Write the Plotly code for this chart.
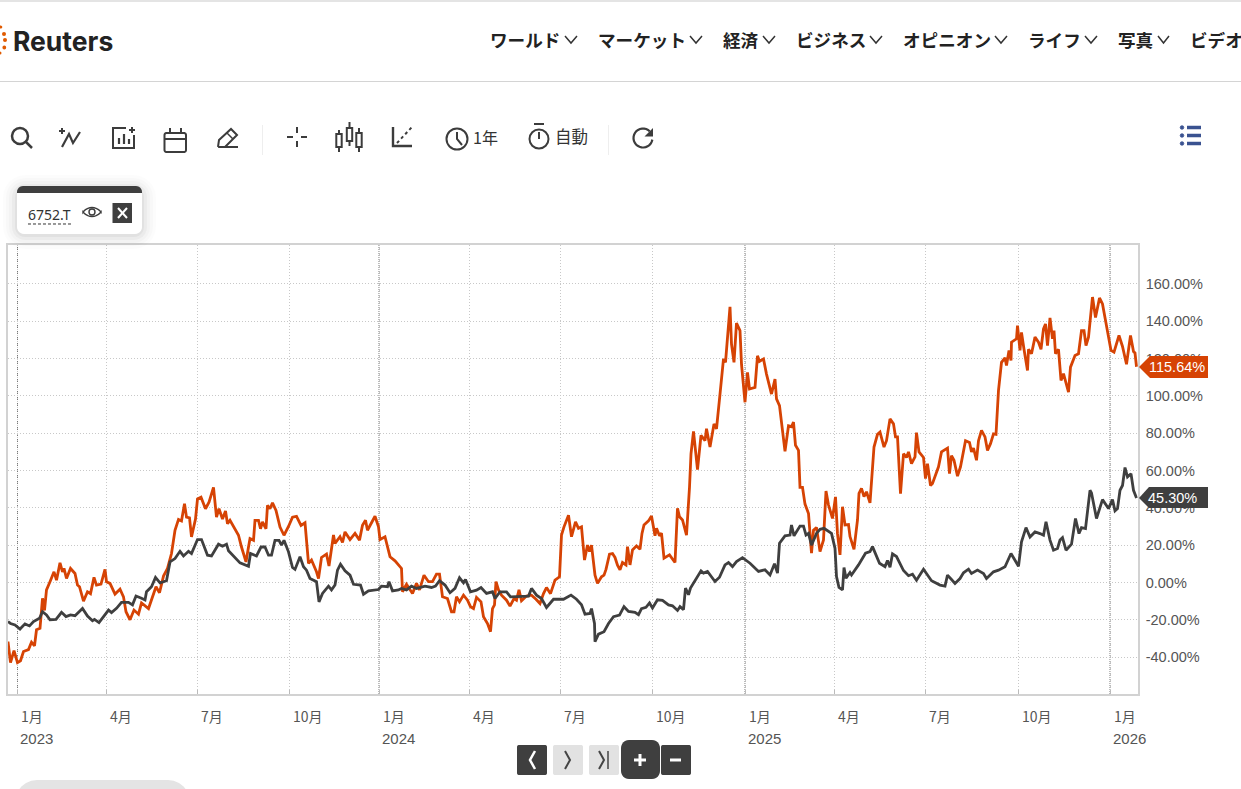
import math
import plotly.graph_objects as go

W = 1241
H = 789

# (chart day, percent change)
orange_points = [
    (-9.5,-31.7),(-7,-43),(-3.5,-36.5),(0,-43),(3,-42),(6,-37),(11,-36),(14,-32),(17,-34),(19,-25.4),
    (22.5,-24.6),(25,-8.5),(27,-15),(29,-4),(32.5,0.4),(36.5,5.7),(39,1.2),(42.5,10.5),(45,5.7),(46.5,7.5),
    (49,2.1),(53,7.5),(57.5,4.8),(60,-1.4),(62,-2.3),(66,-10),(70,-5),(73,-6),(76.5,2.7),(79,-1.4),
    (83.5,-0.9),(87.5,7),(89,0.4),(92.5,-0.5),(97.5,-6.2),(102.5,-3.6),(106,-7.7),(108.5,-15.7),(112.5,-20),(116.5,-14.8),
    (121,-17),(124,-11),(131,-14),(135,-7.7),(138.5,-2.3),(142,-5.5),(146,3.4),(150,7.5),(154,15.5),(157.5,28),
    (161,33.8),(164,33),(167,42.2),(169,35),(172,34.6),(174,24.4),(178,34),(180,44.8),(183.5,45.7),(188,39.5),
    (191.5,43),(196,51),(199,35),(201.5,39.5),(205,34),(208,38.3),(210,31.5),(212.5,33.3),(216,29.7),(221,25.3),
    (224,19),(228.5,11),(231,19),(232.5,23.5),(236,22.6),(237.5,33.3),(241,33.3),(243,28.8),(245,32.4),(248.5,28.8),
    (250,41.3),(252.5,39.5),(255,42.7),(258.5,38.6),(262.5,29.7),(266.5,25.3),(271,30),(275,35),(279,35.4),(283.5,30.6),
    (287.5,32),(291,10.2),(294,12),(299,5.7),(301,2.1),(304,13.4),(309,15.2),(311.5,8.8),(316,25.4),(317.5,20.9),
    (322.5,24.5),(325,21.4),(327.5,27.1),(332.5,23),(337.5,26.3),(342,22.7),(345,30.7),(348,33.4),(350,28),(354,32),
    (357.5,35.5),(361,29.8),(362.5,23),(367.5,24.5),(372.5,13.8),(377.5,11.6),(384,7.5),(385,-5),(389,-1),(395,-5.9),
    (399,-0.5),(402,-4),(406.5,3.9),(411,0.4),(415,0.4),(419,4.5),(422,4.5),(425,-7.7),(430,-8.6),(434,-15.7),
    (436.5,-15.7),(439,-7.7),(442,-10.4),(446,-6.8),(450,-9.5),(453,-13),(456,-14),(459,-8),(463.5,-10.4),(466,-18.4),
    (470,-22),(473,-26.4),(475,-14),(477,-12),(478.5,0.4),(481,-4),(484,-6.8),(489,-9.5),(492.5,-12.7),(496.5,-8.6),
    (499,-9.5),(501.5,-4),(504,-9.8),(509,-7.3),(514,-6.8),(518.5,-9),(522.5,-11.3),(526,-6),(529,-2.7),(533,-6),
    (537.5,1.3),(542,3),(544,25.4),(546.5,29.8),(551,36),(554,24.5),(558,32.5),(561,29),(564,29.8),(567,12),
    (570,20),(572,16.5),(574,20),(577.5,3.9),(580,-0.5),(584,3),(586.5,3.9),(588.5,7),(592,15.2),(595,15.5),
    (597.5,13.4),(600,9.3),(602.5,6.8),(605,10.7),(608.5,9.4),(610,19.2),(612.5,9.4),(615,17.4),(619,19.6),(622.5,17.8),
    (624.5,26.3),(626.5,30.8),(631,33),(634,35.6),(637.5,25),(639,29),(642,25),(644,26.5),(646.5,13),(652,14.8),
    (657.5,10.7),(660,39.7),(662,35.2),(665,33.5),(669,25.4),(672,51),(673.5,69),(676,81),(677.5,71.7),(680,60.5),
    (683.5,78.8),(687.5,76),(689,82.4),(692.5,72.6),(696.5,85),(699,82.4),(702.5,101),(706,119.8),(708,118),(712.5,147.7),
    (714,127.8),(716.5,118),(719,139),(722.5,135),(724,117),(727.5,96.6),(730,112.6),(732,103.7),(737.5,104.6),(740,121.5),
    (742,118.5),(746,119.8),(749,111.7),(752,105.5),(754,101),(757.5,109),(759,98.4),(762,94.8),(767.5,70.3),(771,84),
    (774,83.5),(776,86),(778,73.5),(781,70.8),(782.5,51),(785,51),(787.5,42),(791,37),(794,15.7),(796,28),
    (799,29.5),(802.5,16.5),(806,22.8),(808.5,49),(811,41.5),(815,34.3),(818,45.9),(820,26),(822.5,14.8),(825,40.6),
    (827.5,30.8),(831,31),(832.5,24.6),(836.5,17.8),(840,33.5),(841.5,47.7),(844,50.4),(846.5,46),(849,48.6),(852.5,42.7),
    (856.5,72.6),(860,79.4),(862.5,80.6),(866.5,72.6),(869,76),(872.5,87.7),(876,85),(878,78),(880,78),(883,47.6),
    (886,69),(889,67),(891,70),(894,63.7),(897.5,67.3),(899,80.3),(901.5,70),(906,67),(908,55.7),(910,63.7),
    (913,52),(915,53),(918.5,59),(921,62),(924,70),(930,72),(932,58.3),(934,68),(936.5,65.5),(940,57),
    (943,62),(946,70),(948,76),(952,75),(954,70),(956,72),(959,65.5),(961,76),(964,81.5),(967.5,78),
    (970,70.8),(973,74.4),(976,79.7),(978.5,79.4),(981,103),(984,118),(987.5,120.4),(989,116.3),(991.5,124.4),(993.5,119),
    (994,128.8),(999,130.6),(1000,137.7),(1002.5,124.4),(1004,134),(1006.5,125),(1010,113.6),(1011,125),(1014,122.6),(1017.5,131.5),
    (1021,128.8),(1023.5,125),(1026,136),(1028,138.6),(1030,127),(1032.5,141.8),(1035,130.6),(1036.5,135),(1038,122.6),(1041,125),
    (1043.5,108.3),(1046,111.9),(1051,102),(1053,115.4),(1057.5,121.7),(1061,122.6),(1064,135),(1066.5,135),(1068.5,127),(1071,131.5),
    (1075,153),(1078,142),(1082,152.5),(1085,149.3),(1089,136.8),(1093.5,124.4),(1096.5,123.5),(1101.5,132.4),(1105,126.5),(1109,117),
    (1113,132.4),(1116,123.8),(1117.5,123),(1119,115.64),
]

dark_points = [
    (-9.5,-21),(-7,-22),(-2.5,-22.8),(2.5,-25),(7.5,-22.2),(12,-23.3),(16,-21),(22,-19.2),(25,-15.7),(29,-17.4),
    (32.5,-20),(38.5,-19.8),(44,-16),(48.5,-18.3),(53,-17.4),(57.5,-17.8),(65,-13.9),(70,-18),(75,-20.5),(77,-19.8),
    (81.5,-21.5),(87.5,-17.4),(91,-14.8),(94,-16.2),(99,-13.9),(104,-10.7),(111,-10.7),(115,-12),(118.5,-7.3),(124,-8.5),
    (127.5,-9.4),(129,-5),(134,-2.3),(138,2.7),(142.5,-0.2),(149,0.9),(152.5,11),(157.5,12.8),(162.5,16.7),(166,14.2),
    (171,16.7),(174,15.5),(180,23),(184,23),(190,14.6),(194,14.2),(201,20.5),(205,19.4),(209,20.5),(211,17),
    (217.5,13.3),(222.5,10.5),(231,8.7),(233,15.5),(239,14.2),(243.5,19),(247.5,19),(251,14.6),(254,14.6),(257.5,22.6),
    (261.5,22.6),(264,20),(266.5,22.6),(271,16.4),(275,8),(277.5,7),(282.5,13.8),(286,8.4),(289,6.6),(292.5,2.1),
    (299,0.4),(301.5,-10.4),(305,-5.9),(311,-2),(314,-4),(317.5,-1.4),(320,6.6),(323,9.8),(327.5,6.3),(332.5,3.9),
    (336,-1),(343,-1.4),(346,-6.3),(351,-4.5),(361,-3.8),(364,-2),(370,-2.3),(371.5,0.4),(375,-4.5),(381,-4),
    (384,-3.2),(389,-4),(394,-2),(399,-3.2),(407.5,-2),(414,-2.7),(418,-2),(422,0.9),(427.5,-1.4),(432.5,-5.5),
    (437.5,-3.2),(442,2.5),(446,-0.2),(448,1.6),(453,-5),(459,-4.1),(463.5,-2.7),(469,-5.9),(475,-5),(477.5,-8.6),
    (482.5,-5),(489,-5),(493,-7.7),(498,-7.7),(504,-7.7),(511,-7.3),(514,-3.2),(519,-6.8),(524,-8.6),(529,-13.4),
    (536,-9),(546,-9),(553.5,-6.8),(559,-9),(564,-12),(567.5,-17),(572.5,-16.6),(574,-14),(577,-22),(577.5,-31.8),
    (581,-27.7),(586.5,-26.4),(591,-22),(596,-18.4),(602,-17.5),(606.5,-13),(611,-15.5),(617.5,-16),(621,-17.3),(624,-14),
    (628.5,-13.3),(632,-11),(635,-13.7),(640,-9.3),(645,-9.6),(651,-12),(655,-12.5),(660,-15),(662.5,-13),(666,-14.6),
    (668,-3),(671,-6.6),(673,-3),(679,2.3),(683.5,6.2),(686,5),(690,5.9),(697.5,0.5),(702,2.8),(707.5,9.4),
    (711,10.7),(715,8.5),(719,11.2),(725,13.3),(732.5,10.3),(741,5.9),(747.5,6.8),(752.5,4),(757,10),(760,5),
    (762,21),(767.5,25),(772.5,25.4),(774,30.8),(776.5,25),(782.5,30.2),(786,30.2),(788.5,25.4),(791,26.3),(794,20),
    (799,26.3),(802.5,28.5),(806.5,29),(814,26.3),(817.5,18.3),(819,3.2),(821.5,-2.7),(825,-4),(826.5,8),(828.5,2.3),
    (832.5,5.3),(834,4),(841,9.4),(848,15.7),(852.5,16.5),(855,19.2),(862,10.3),(867.5,8.5),(870,11.7),(872.5,8.2),
    (875,15.3),(879,13.9),(886,6.4),(891,3.6),(895,4.4),(899,1.2),(906,7.1),(914,0.9),(922.5,-1.4),(927.5,-2),
    (930,3.9),(934,1.6),(937.5,-0.5),(942.5,2.1),(946,5.2),(951,7.1),(954,4.8),(960,6.6),(966,4.8),(969,2.1),
    (976,5.7),(981,6.6),(987.5,8.4),(993.5,15.5),(1001,8.7),(1004,21.8),(1008.5,29.4),(1012.5,24.4),(1017.5,27.1),(1022.5,26.2),
    (1026,25.3),(1028.5,32.5),(1032.5,22.7),(1036,17.3),(1040,18.2),(1042.5,22.7),(1045,24),(1048.5,17.3),(1054,20.5),(1058,34.3),
    (1061.5,26.2),(1064,29.4),(1068,28.9),(1072.5,49.4),(1074,48),(1079,34.3),(1085,44.4),(1091,39.6),(1095,44.4),(1097.5,38.4),
    (1100,39.6),(1102.5,49.4),(1105,52),(1107.5,61.6),(1110,56.6),(1113.5,58.3),(1116,49.4),(1118.5,45.9),(1119,45.3),
]

y_ticks = [-40, -20, 0, 20, 40, 60, 80, 100, 120, 140, 160]
y_labels = ["-40.00%", "-20.00%", "0.00%", "20.00%", "40.00%", "60.00%", "80.00%",
            "100.00%", "120.00%", "140.00%", "160.00%"]
month_days = [0, 89, 180, 271.5, 361.5, 452, 542.5, 635, 727.5, 816.5, 907.5, 1000.5, 1092.5]
month_labels = ["1月", "4月", "7月", "10月"] * 3 + ["1月"]
year_days = [0, 361.5, 727.5, 1092.5]
year_labels = ["2023", "2024", "2025", "2026"]
nav_labels = ["ワールド", "マーケット", "経済", "ビジネス", "オピニオン", "ライフ", "写真", "ビデオ"]

ORANGE = "#d64304"
DARK = "#3f3f3f"
ICON = "#3c3c3c"
LATIN = "Liberation Sans, Arial, sans-serif"
CJK = "Noto Sans CJK JP, sans-serif"

shapes = []
notes = []


def X(x):
    return x / W


def Y(y):
    return 1 - y / H


def make_path(points, closed=False):
    d = "M " + " L ".join(f"{X(a):.5f},{Y(b):.5f}" for a, b in points)
    return d + (" Z" if closed else "")


def stroke(points, color=ICON, width=2, dash="solid"):
    shapes.append(dict(type="path", xref="paper", yref="paper", path=make_path(points),
                       line=dict(color=color, width=width, dash=dash)))


def poly(points, fill, line_color=None, opacity=1):
    shapes.append(dict(type="path", xref="paper", yref="paper", path=make_path(points, True),
                       fillcolor=fill, opacity=opacity, line=dict(width=1 if line_color else 0, color=line_color or fill)))


def box(x0, y0, x1, y1, fill="rgba(0,0,0,0)", color=None, width=0):
    shapes.append(dict(type="rect", xref="paper", yref="paper", x0=X(x0), x1=X(x1), y0=Y(y0), y1=Y(y1),
                       fillcolor=fill, line=dict(color=color or fill, width=width)))


def ring(cx, cy, r, color=ICON, width=2, fill="rgba(0,0,0,0)"):
    shapes.append(dict(type="circle", xref="paper", yref="paper", x0=X(cx - r), x1=X(cx + r),
                       y0=Y(cy - r), y1=Y(cy + r), fillcolor=fill, line=dict(color=color, width=width)))


def rounded(x0, y0, x1, y1, r, top_only=False):
    pts = []
    corners = [(x1 - r, y0 + r, -90), (x1 - r, y1 - r, 0), (x0 + r, y1 - r, 90), (x0 + r, y0 + r, 180)]
    for i, (cx, cy, start) in enumerate(corners):
        if top_only and i in (1, 2):
            pts.append((x1, y1) if i == 1 else (x0, y1))
            continue
        for k in range(7):
            a = math.radians(start + 15 * k)
            pts.append((cx + r * math.cos(a), cy + r * math.sin(a)))
    return pts


def label(x, y, text, size=14, color="#555555", font=LATIN, anchor="left", bold=False):
    if bold:
        text = f"<b>{text}</b>"
    notes.append(dict(xref="paper", yref="paper", x=X(x), y=Y(y), text=text, showarrow=False,
                      xanchor=anchor, yanchor="middle", borderpad=0, borderwidth=0,
                      font=dict(size=size, color=color, family=font)))


def chevron(x0, x1, y0, y1):
    stroke([(x0, y0), ((x0 + x1) / 2, y1), (x1, y0)], color="#333333", width=1.5)


def arc(cx, cy, r, a0, a1, n=24):
    return [(cx + r * math.cos(math.radians(a0 + (a1 - a0) * i / n)),
             cy + r * math.sin(math.radians(a0 + (a1 - a0) * i / n))) for i in range(n + 1)]


# page header
box(0, 0, W, 2, fill="#e4e4e4")
box(0, 81, W, 82, fill="#d4d4d4")
logo_dots = [(4, 34, 2), (5, 40, 2), (4.3, 47.5, 1.9), (0.7, 27, 1.6), (0, 53, 1.5)]
for cx, cy, r in logo_dots:
    ring(cx, cy, r, color="#e05a00", width=0, fill="#e05a00")
label(13, 41, "Reuters", size=26.5, color="#222222", font="Inter, sans-serif", bold=True)

nav_left = [490, 598, 723, 796, 903, 1028, 1118, 1190]
nav_chevrons = [(565, 577), (690, 702), (763, 775), (870, 882), (995, 1007), (1085, 1097), (1158, 1169)]
for left, text in zip(nav_left, nav_labels):
    label(left, 39.5, text, size=17.6, color="#222222", font=CJK, bold=True)
for a, b in nav_chevrons:
    chevron(a, b, 36, 43)

# toolbar icons
ring(20, 136, 8, width=2.5)
stroke([(26, 142), (32, 148)], width=2.5)
stroke([(62, 147), (69, 134), (73, 143), (80, 132)], width=2.2)
stroke([(59, 131), (65, 131)])
stroke([(62, 128), (62, 134)])
stroke([(126, 128), (113, 128), (113, 148), (134, 148), (134, 135)])
stroke([(119, 144), (119, 138)], width=2.2)
stroke([(124, 144), (124, 134)], width=2.2)
stroke([(129, 144), (129, 139)], width=2.2)
stroke([(129, 130), (135, 130)])
stroke([(132, 127), (132, 133)])
poly(rounded(164.5, 133, 186, 152, 2), "rgba(0,0,0,0)", ICON)
shapes[-1]["line"]["width"] = 2
stroke([(164.5, 139), (186, 139)])
stroke([(170, 128), (170, 133)])
stroke([(181, 128), (181, 133)])
stroke([(218, 147), (219, 140), (231, 129), (237, 135), (225, 147), (218, 147)])
stroke([(227, 133), (233, 139)], width=1.5)
stroke([(225, 147), (238, 147)])
box(262, 125, 263, 155, fill="#eeeeee")
stroke([(287, 137), (293, 137)])
stroke([(301, 137), (307, 137)])
stroke([(297, 127), (297, 133)])
stroke([(297, 141), (297, 147)])
for cx, top, bottom, wick_top, wick_bottom in [(339, 134, 147, 130, 152), (349.5, 128, 141, 122, 146), (359, 133, 147, 128, 152)]:
    box(cx - 2.7, top, cx + 2.7, bottom, color=ICON, width=2)
    stroke([(cx, wick_top), (cx, top)])
    stroke([(cx, bottom), (cx, wick_bottom)])
stroke([(393, 127), (393, 146), (412, 146)], width=2.4)
stroke([(397, 143), (412, 127)], dash="3px,3px")
ring(457, 139, 10.5)
stroke([(457, 132), (457, 139), (462, 145)])
label(473, 137, "1年", size=16, color="#333333", font=CJK)
ring(539, 139, 9.5)
stroke([(534, 124), (544, 124)])
stroke([(539, 132), (539, 139)])
label(555, 136, "自動", size=16.5, color="#333333", font=CJK)
box(608, 125, 609, 155, fill="#eeeeee")
stroke(arc(643, 138, 9.5, 10, 315), width=2.2)
poly([(653, 128), (653, 136.5), (644.5, 136.5)], ICON)
for row in (127.5, 135.5, 143.5):
    ring(1182, row, 1.8, color="#3a5290", width=0.8, fill="#3a5290")
    stroke([(1187, row), (1201, row)], color="#3a5290", width=3.5)

# series card
for grow, alpha in [(14, 0.012), (11, 0.015), (8, 0.02), (5, 0.03), (2, 0.04)]:
    poly(rounded(17 - grow, 186 - grow + 3, 142 + grow, 234 + grow + 1, 8 + grow), "#000000", opacity=alpha)
poly(rounded(17, 186, 142, 234, 7), "#ffffff")
poly(rounded(17, 186, 142, 193, 6, top_only=True), DARK)
label(28, 214, "6752.T", size=14, color="#333333", font="Noto Sans, sans-serif")
stroke([(28, 224), (71, 224)], color="#333333", width=1, dash="3px,2px")
stroke(arc(92, 218.5, 11, 215, 325, 10) + arc(92, 205.5, 11, 35, 145, 10) + arc(92, 218.5, 11, 215, 216, 1), width=1.4)
ring(92, 212, 3, width=1.4)
poly([(112.5, 203), (132, 203), (132, 223), (112.5, 223)], DARK)
stroke([(118, 208), (127, 218)], color="#ffffff", width=2)
stroke([(127, 208), (118, 218)], color="#ffffff", width=2)

# year marker lines sit on the chart's own x scale
for day in year_days:
    shapes.append(dict(type="line", xref="x", yref="y domain", x0=day, x1=day, y0=0, y1=1,
                       layer="below", line=dict(color="#777777", width=1, dash="1px,1px")))

# last value flags
poly([(1139, 367), (1150, 356), (1208, 356), (1208, 378), (1150, 378)], ORANGE)
label(1149, 367, "115.64%", size=14.5, color="#ffffff")
poly([(1139, 498), (1149, 487), (1208, 487), (1208, 508), (1149, 508)], DARK)
label(1148, 498, "45.30%", size=14.5, color="#ffffff")

# month and year labels
for day, text in zip(month_days, month_labels):
    notes.append(dict(xref="x", yref="paper", x=day, y=Y(716), text=text, showarrow=False, xanchor="left",
                      yanchor="middle", xshift=3.5, borderpad=0, borderwidth=0,
                      font=dict(size=14, color="#555555", family=CJK)))
for day, text in zip(year_days, year_labels):
    notes.append(dict(xref="x", yref="paper", x=day, y=Y(738), text=text, showarrow=False, xanchor="left",
                      yanchor="middle", xshift=2.5, borderpad=0, borderwidth=0,
                      font=dict(size=15, color="#555555", family=LATIN)))

# zoom and pan buttons
poly(rounded(517, 745, 547, 775, 2), DARK)
poly(rounded(553, 745, 583, 775, 2), "#e2e2e2")
poly(rounded(589, 745, 619, 775, 2), "#e2e2e2")
poly(rounded(621, 740, 660, 779, 8), DARK)
poly(rounded(661, 745, 691, 775, 2), DARK)
stroke([(535, 751), (530, 760), (535, 769)], color="#ffffff", width=2.5)
stroke([(565, 751), (570, 760), (565, 769)], color="#444444", width=2)
stroke([(599, 751), (604, 760), (599, 769)], color="#444444", width=2)
stroke([(608, 751), (608, 769)], color="#444444", width=1.5)
stroke([(634, 760), (646, 760)], color="#ffffff", width=3)
stroke([(640, 754), (640, 766)], color="#ffffff", width=3)
stroke([(670, 760), (681, 760)], color="#ffffff", width=3)
poly(rounded(15, 780, 190, 830, 22), "#e4e4e4")

fig = go.Figure()
fig.add_trace(go.Scatter(x=[p[0] for p in orange_points], y=[p[1] for p in orange_points], mode="lines",
                         line=dict(color=ORANGE, width=2.8), name="6752.T", showlegend=False, hoverinfo="skip"))
fig.add_trace(go.Scatter(x=[p[0] for p in dark_points], y=[p[1] for p in dark_points], mode="lines",
                         line=dict(color=DARK, width=2.8), name="index", showlegend=False, hoverinfo="skip"))

fig.update_layout(
    width=W,
    height=H,
    margin=dict(l=0, r=0, t=0, b=0),
    paper_bgcolor="#ffffff",
    plot_bgcolor="#ffffff",
    shapes=shapes,
    annotations=notes,
    xaxis=dict(domain=[X(8), X(1138)], range=[-9.5, 1120.5], tickmode="array", tickvals=month_days,
               showticklabels=False, showgrid=True, gridcolor="#c8c8c8", griddash="1px,2px", gridwidth=1,
               zeroline=False, showline=True, linecolor="#d2d2d2", linewidth=1.6, mirror=True,
               ticks="inside", ticklen=4, tickcolor="#bbbbbb"),
    yaxis=dict(domain=[Y(694), Y(245)], range=[-59.8, 180.9], side="right", tickmode="array",
               tickvals=y_ticks, ticktext=y_labels, showgrid=True, gridcolor="#c8c8c8", griddash="1px,2px",
               gridwidth=1, zeroline=False, showline=True, linecolor="#d2d2d2", linewidth=1.6, mirror=True,
               ticks="outside", ticklen=3, tickcolor="#ffffff",
               tickfont=dict(size=14.5, color="#555555", family=LATIN)),
)

fig.write_html("out.html", config={"displayModeBar": False},
               post_script="document.body.style.margin='0';document.body.style.overflow='hidden';")
